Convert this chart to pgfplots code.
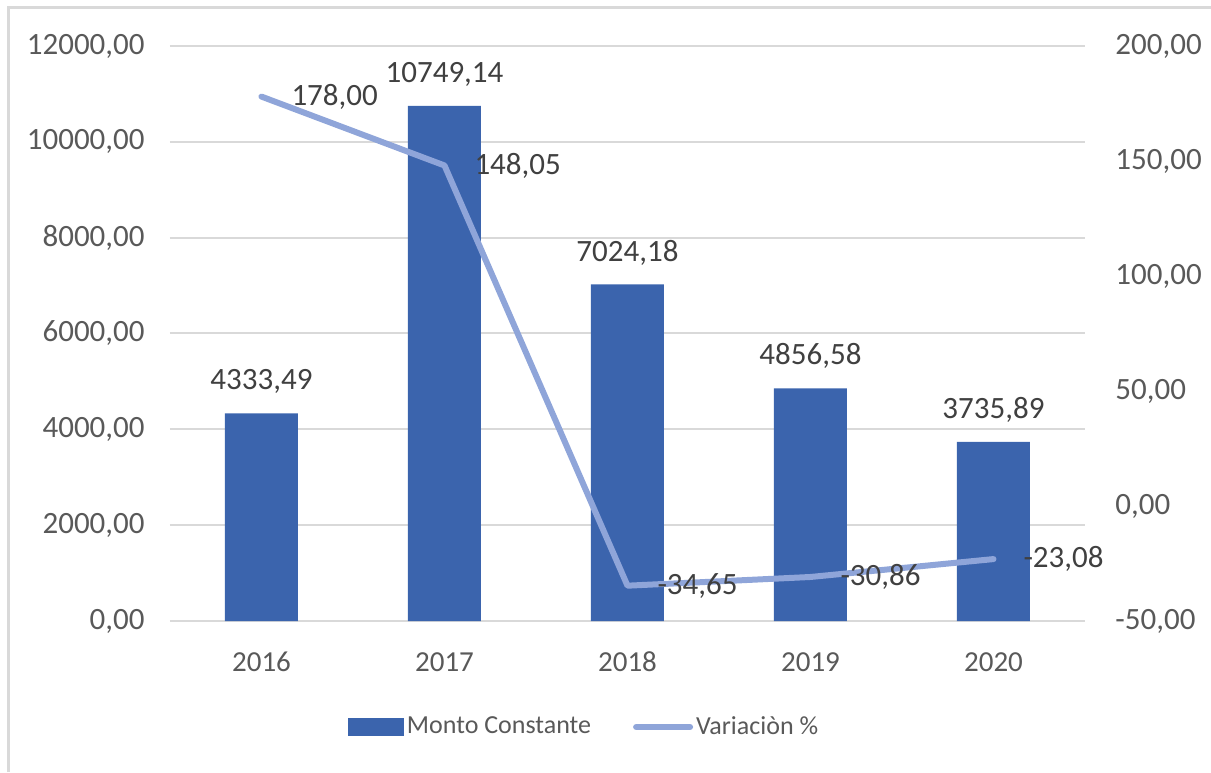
\documentclass[border=0pt]{standalone}
\usepackage{fontspec}
\setmainfont{Carlito}
\usepackage{pgfplots}
\usepackage{pgfplotstable}
\pgfplotsset{compat=1.18}

\definecolor{barblue}{HTML}{3B64AD}
\definecolor{lineblue}{HTML}{8FA5D9}
\definecolor{gridgray}{HTML}{D9D9D9}
\definecolor{ticktext}{HTML}{595959}
\definecolor{labeltext}{HTML}{404040}

% Monto Constante
\pgfplotstableread{
x y
0 4333.49
1 10749.14
2 7024.18
3 4856.58
4 3735.89
}\monto

% Variacion %
\pgfplotstableread{
x y
0 178.00
1 148.05
2 -34.65
3 -30.86
4 -23.08
}\variacion

\pgfplotsset{
  base/.style={
    scale only axis, width=457.5pt, height=287.5pt,
    at={(0,0)}, anchor=south west,
    xmin=-0.5, xmax=4.5,
    axis line style={draw=none},
    major tick length=0pt,
    tick style={draw=none},
    scaled y ticks=false,
    yticklabel style={font=\fontsize{15.5}{17}\selectfont, text=ticktext},
    xticklabel style={font=\fontsize{14.5}{16}\selectfont, text=ticktext},
    /pgf/number format/.cd, fixed, fixed zerofill, precision=2,
      use comma, 1000 sep={}, assume math mode=true,
  },
}

\begin{document}
\begin{tikzpicture}
\useasboundingbox (-85pt,-75.5pt) rectangle (520.5pt,310.5pt);

\begin{axis}[base,
  ymin=0, ymax=12000, ytick={0,2000,...,12000},
  ymajorgrids, grid style={gridgray, line width=1pt},
  xtick={0,...,4}, xticklabels={2016,2017,2018,2019,2020},
  xticklabel style={anchor=center, inner sep=0pt, yshift=-20.5pt},
  yticklabel style={anchor=east, inner sep=0pt, xshift=-12.5pt},
  ybar, bar width=36.5pt,
  nodes near coords,
  nodes near coords style={anchor=center, inner sep=0pt, yshift=16pt,
    font=\fontsize{15.5}{17}\selectfont, text=labeltext},
  legend columns=2,
  legend style={at={(0.1945,-0.1843)}, anchor=west, draw=none, fill=none,
    inner sep=0pt, outer sep=0pt, nodes={inner sep=1.5pt},
    font=\fontsize{13}{15}\selectfont, text=ticktext,
    /tikz/every even column/.append style={column sep=19.5pt}},
]
\addplot[fill=barblue, draw=none,
  legend image code/.code={\fill[barblue] (0pt,-4.5pt) rectangle (28pt,4.5pt);}]
  table[x=x, y=y]{\monto};
\addlegendentry{Monto Constante}
\addlegendimage{legend image code/.code={\draw[lineblue, line width=3pt, line cap=round] (1.5pt,0pt) -- (28.5pt,0pt);}}
\addlegendentry{Variaciòn \%}
\end{axis}

\begin{axis}[base,
  ymin=-50, ymax=200, ytick={-50,0,...,200},
  axis y line*=right, hide x axis,
  yticklabel style={anchor=west, inner sep=0pt, xshift=15pt},
]
\addplot[lineblue, line width=3pt, line cap=round, line join=round, mark=none,
  nodes near coords,
  nodes near coords style={anchor=west, inner sep=0pt, xshift=13.5pt,
    font=\fontsize{15.5}{17}\selectfont, text=labeltext}]
  table[x=x, y=y]{\variacion};
\end{axis}

\draw[gridgray, line width=1.5pt] (-80.5pt,-75.5pt) -- (-80.5pt,306.5pt) -- (520.5pt,306.5pt);
\end{tikzpicture}
\end{document}
